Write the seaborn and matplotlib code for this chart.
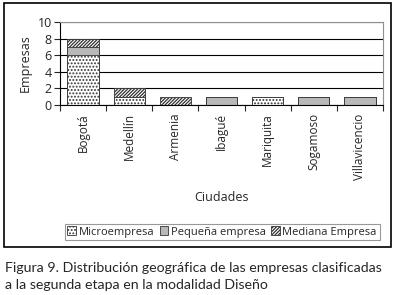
import numpy as np
import pandas as pd
import matplotlib
matplotlib.use('Agg')
import matplotlib.pyplot as plt
import seaborn as sns
from matplotlib.patches import Patch, Rectangle

# datos
ciudades = ['Bogotá', 'Medellín', 'Armenia', 'Ibagué', 'Mariquita', 'Sogamoso', 'Villavicencio']
micro = [6, 1, 0, 0, 1, 0, 0]
pequena = [1, 0, 0, 1, 0, 1, 1]
mediana = [1, 1, 1, 0, 0, 0, 0]

df = pd.DataFrame({'Ciudad': ciudades, 'Micro': micro, 'Pequena': pequena, 'Mediana': mediana})
df['s1'] = df['Micro']
df['s2'] = df['Micro'] + df['Pequena']
df['s3'] = df['s2'] + df['Mediana']

sns.set_style('white')
plt.rcParams['font.family'] = ['Open Sans', 'DejaVu Sans']
plt.rcParams['hatch.linewidth'] = 0.9

fig = plt.figure(figsize=(3.94, 2.95), dpi=100)
ax = fig.add_axes([60 / 394, 1 - 105 / 295, (383 - 60) / 394, (105 - 22) / 295])

rayas = '/' * 10
puntos = '.' * 5
capas = [('s3', 'white', rayas), ('s2', '#b8b8b8', None), ('s1', 'white', puntos)]
for col, color, hatch in capas:
    n0 = len(ax.patches)
    sns.barplot(data=df, x='Ciudad', y=col, color=color, saturation=1,
                edgecolor='#333333', linewidth=0.6, width=0.68, ax=ax)
    for p in ax.patches[n0:]:
        if hatch:
            p.set_hatch(hatch)

ax.set_ylim(0, 10)
ax.set_xlim(-0.5, 6.5)
ax.set_yticks(range(0, 11, 2))
ax.yaxis.grid(True, color='black', linewidth=0.8)
ax.set_axisbelow(True)
for s in ['top', 'right']:
    ax.spines[s].set_color('#909090')
for s in ['left', 'bottom']:
    ax.spines[s].set_color('black')
    ax.spines[s].set_linewidth(0.8)

ax.set_xticks(np.arange(7))
ax.set_xticklabels(ciudades, rotation=90, fontsize=8.5)
ax.tick_params(axis='x', which='major', length=0, pad=6)
ax.set_xticks(np.arange(-0.5, 7, 1), minor=True)
ax.tick_params(axis='x', which='minor', length=4, direction='out', bottom=True, width=0.8)
ax.tick_params(axis='y', length=4, direction='out', left=True, width=0.8, labelsize=9, pad=2)
ax.set_xlabel('Ciudades', fontsize=9, labelpad=8)
ax.set_ylabel('Empresas', fontsize=9, labelpad=4)

handles = [Patch(facecolor='white', edgecolor='#333333', hatch=puntos, linewidth=0.6, label='Microempresa'),
           Patch(facecolor='#b8b8b8', edgecolor='#333333', linewidth=0.6, label='Pequeña empresa'),
           Patch(facecolor='white', edgecolor='#333333', hatch=rayas, linewidth=0.6, label='Mediana Empresa')]
leg = fig.legend(handles=handles, ncol=3, loc='center', bbox_to_anchor=(222 / 394, 1 - 232 / 295),
                 fontsize=8, frameon=True, fancybox=False, handlelength=0.8, handleheight=0.8,
                 handletextpad=0.2, columnspacing=0.5, borderpad=0.25, edgecolor='#808080')
leg.get_frame().set_linewidth(0.8)

fig.patches.append(Rectangle((4 / 394, 1 - 247 / 295), 387 / 394, 244 / 295,
                             transform=fig.transFigure, fill=False, edgecolor='black', linewidth=1.2))

fig.text(5 / 394, 1 - 268 / 295, 'Figura 9. Distribución geográfica de las empresas clasificadas',
         fontsize=10.2, va='center', ha='left', family=['Lato', 'DejaVu Sans'])
fig.text(5 / 394, 1 - 285 / 295, 'a la segunda etapa en la modalidad Diseño',
         fontsize=10.2, va='center', ha='left', family=['Lato', 'DejaVu Sans'])

fig.savefig('out.png', dpi=100)
